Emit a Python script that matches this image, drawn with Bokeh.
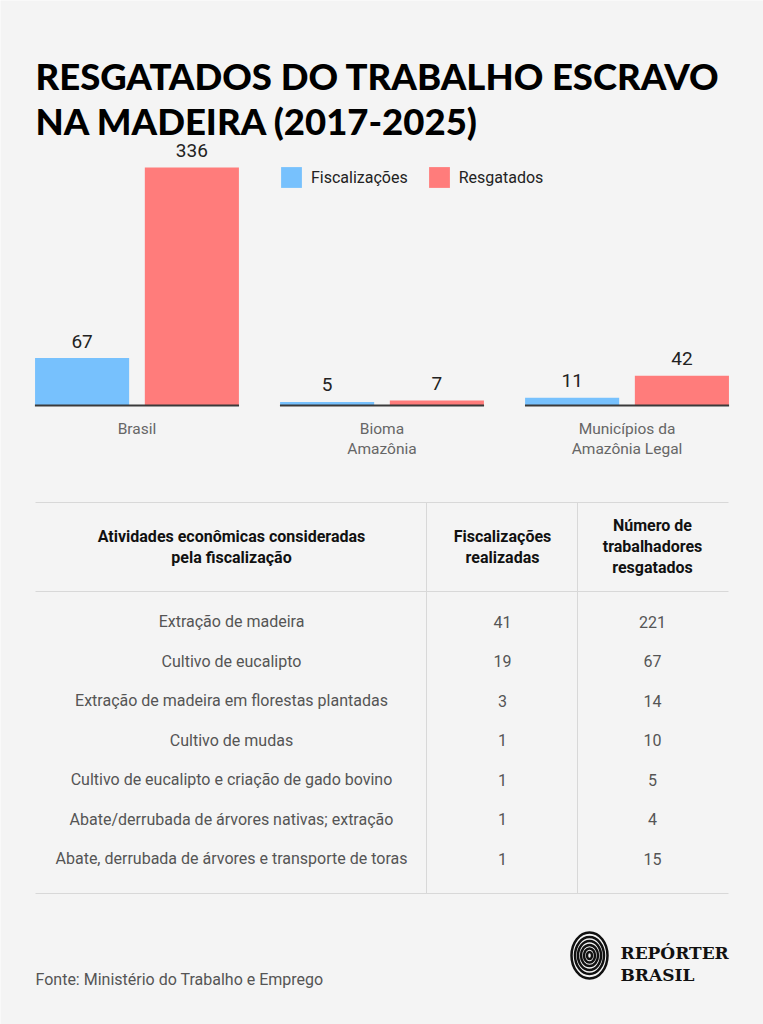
from bokeh.plotting import figure
from bokeh.models import (Range1d, ColumnDataSource, Legend, LegendItem)
from bokeh.transform import dodge
from bokeh.core.properties import value
from bokeh.embed import file_html
from bokeh.resources import INLINE

# ---------------- data ----------------
title_lines = ["RESGATADOS DO TRABALHO ESCRAVO", "NA MADEIRA (2017-2025)"]
categories = ["Brasil", "Bioma Amazônia", "Municípios da Amazônia Legal"]
cat_line1 = ["Brasil", "Bioma", "Municípios da"]
cat_line2 = ["", "Amazônia", "Amazônia Legal"]
fiscalizacoes = [67, 5, 11]
resgatados = [336, 7, 42]
series_names = ["Fiscalizações", "Resgatados"]

table_headers = [
    ["Atividades econômicas consideradas", "pela fiscalização"],
    ["Fiscalizações", "realizadas"],
    ["Número de", "trabalhadores", "resgatados"],
]
activities = [
    "Extração de madeira",
    "Cultivo de eucalipto",
    "Extração de madeira em florestas plantadas",
    "Cultivo de mudas",
    "Cultivo de eucalipto e criação de gado bovino",
    "Abate/derrubada de árvores nativas; extração",
    "Abate, derrubada de árvores e transporte de toras",
]
fisc_realizadas = [41, 19, 3, 1, 1, 1, 1]
trab_resgatados = [221, 67, 14, 10, 5, 4, 15]
source_note = "Fonte: Ministério do Trabalho e Emprego"
logo_lines = ["REPÓRTER", "BRASIL"]

# ---------------- style ----------------
W, H = 763, 1024
BG = "#f4f4f4"
BLUE = "#77c1fd"
RED = "#ff7c7b"
FONT = value("Roboto")
TITLE_FONT = value("Lato Black")

p = figure(width=W, height=H, output_backend="svg", toolbar_location=None,
           x_range=Range1d(0, W), y_range=Range1d(H, 0),
           x_axis_type=None, y_axis_type=None, min_border=0,
           background_fill_color=BG, border_fill_color=BG, outline_line_color=None)
p.grid.visible = False

# bar chart ranges (value 0 at baseline; categories at slots 0.5, 1.5, 2.5)
px_per_unit = 238.0 / 336.0
base_px = 405.0
pad = 0.057
p.extra_y_ranges = {"val": Range1d(start=(base_px - H) / px_per_unit, end=base_px / px_per_unit)}
p.extra_x_ranges = {"cat": Range1d(start=-pad, end=len(categories) + pad)}

src = ColumnDataSource(dict(cat=categories, pos=[i + 0.5 for i in range(len(categories))],
                            l1=cat_line1, l2=cat_line2,
                            fisc=fiscalizacoes, resg=resgatados,
                            fisc_lbl=[str(v) for v in fiscalizacoes],
                            resg_lbl=[str(v) for v in resgatados]))

off = 0.224
bw = 0.384
rb = p.vbar(x=dodge("pos", -off), top="fisc", bottom=0,
            width=bw, source=src, fill_color=BLUE, line_color=None,
            x_range_name="cat", y_range_name="val")
rr = p.vbar(x=dodge("pos", off), top="resg", bottom=0,
            width=bw, source=src, fill_color=RED, line_color=None,
            x_range_name="cat", y_range_name="val")

# group baselines
p.rect(x="pos", y=0, width=0.833, height=2, height_units="screen", source=src,
       fill_color="#3a3a3a", line_color=None, x_range_name="cat", y_range_name="val")

# value labels
for col, lbl, d in (("fisc", "fisc_lbl", -off), ("resg", "resg_lbl", off)):
    p.text(x=dodge("pos", d), y=col, text=lbl, source=src,
           x_range_name="cat", y_range_name="val", text_align="center",
           text_baseline="middle", y_offset=-17, text_font=FONT,
           text_font_size="19px", text_color="#222222")

# category labels
p.text(x="pos", y=428, text="l1", source=src, x_range_name="cat", text_align="center",
       text_baseline="middle", text_font=FONT, text_font_size="15.5px", text_color="#666666")
p.text(x="pos", y=448, text="l2", source=src, x_range_name="cat", text_align="center",
       text_baseline="middle", text_font=FONT, text_font_size="15.5px", text_color="#666666")

# legend
legend = Legend(items=[LegendItem(label=series_names[0], renderers=[rb]),
                       LegendItem(label=series_names[1], renderers=[rr])],
                orientation="horizontal", location=(278, 834),
                glyph_width=26, glyph_height=26, label_height=26, label_standoff=7,
                spacing=18, padding=0, margin=0, background_fill_alpha=0,
                border_line_alpha=0, label_text_font="Roboto",
                label_text_font_size="16px", label_text_color="#222222")
p.add_layout(legend)

# title
for i, t in enumerate(title_lines):
    p.text(x=[35], y=[75 + 45 * i], text=[t], text_font=TITLE_FONT, text_font_style="bold",
           text_font_size="36.5px", text_color="#000000", text_baseline="alphabetic")

# table lines
LINE = "#d8d8d8"
p.segment(x0=[35, 35, 35, 426, 577], y0=[502, 591, 893, 502, 502],
          x1=[728, 728, 728, 426, 577], y1=[502, 591, 893, 893, 893],
          line_color=LINE, line_width=1)

col_x = [231, 502, 652]
for cx, hdr in zip(col_x, table_headers):
    n = len(hdr)
    y0 = 546 - (n - 1) * 10.5
    for j, line in enumerate(hdr):
        p.text(x=[cx], y=[y0 + 21 * j], text=[line], text_align="center",
               text_baseline="middle", text_font=FONT, text_font_style="bold",
               text_font_size="16px", text_color="#111111")

row_y = [621 + 39.5 * i for i in range(len(activities))]
tsrc = ColumnDataSource(dict(y=row_y, act=activities,
                             f=[str(v) for v in fisc_realizadas],
                             r=[str(v) for v in trab_resgatados]))
for cx, col in zip(col_x, ["act", "f", "r"]):
    p.text(x=cx, y="y", text=col, source=tsrc, text_align="center", text_baseline="middle",
           text_font=FONT, text_font_size="16px", text_color="#555555")

# footer
p.text(x=[35], y=[979], text=[source_note], text_baseline="middle", text_font=FONT,
       text_font_size="16px", text_color="#555555")

# logo
p.ellipse(x=[589] * 6, y=[955] * 6, width=[5, 11, 17, 23, 29, 36],
          height=[7, 14, 21, 29, 37, 46], fill_color=None, line_color="#111111",
          line_width=2.5)
for j, t in enumerate(logo_lines):
    p.text(x=[620], y=[952 + 22 * j], text=[t], text_baseline="alphabetic",
           text_font=value("DejaVu Serif"), text_font_style="bold",
           text_font_size="17px", text_color="#111111")

open("out.html", "w").write(file_html(p, INLINE))
